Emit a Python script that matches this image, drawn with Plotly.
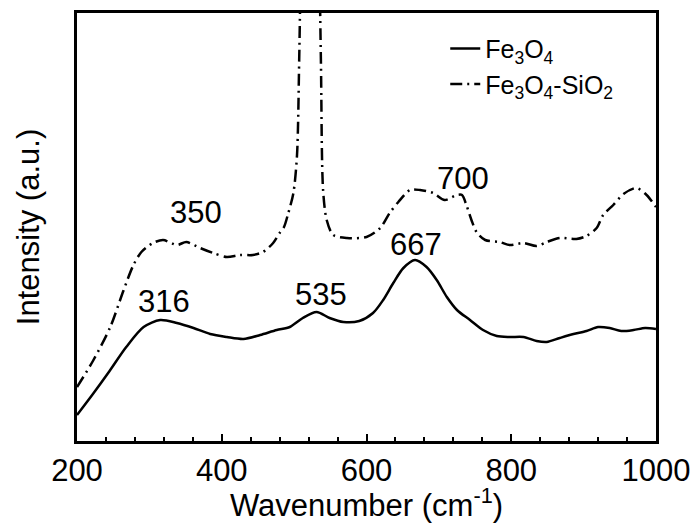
import plotly.graph_objects as go

# Fe3O4 (solid)
x_fe = [200, 222, 245, 268, 292, 315, 338, 361, 384, 407, 430, 453, 476, 494, 512,
        531, 549, 568, 590, 609, 623, 637, 651, 667, 683, 697, 711, 725, 743, 761,
        780, 798, 817, 835, 849, 867, 886, 904, 920, 936, 952, 969, 985, 1000]
y_fe = [26, 47, 70, 94, 114, 121, 118, 113, 107, 104, 102, 106, 111, 114, 123,
        129, 123, 119, 120, 128, 141, 158, 173, 181, 174, 161, 144, 131, 121, 111,
        105, 104, 104, 100, 99, 103, 107, 110, 114, 113, 110, 111, 113, 112]

# Fe3O4-SiO2 (dash-dot)
x_fs = [200, 222, 246, 264, 278, 289, 305, 319, 338, 351, 370, 388, 407, 425, 443,
        457, 471, 480, 486, 492, 499, 504, 507, 511, 522, 533, 537, 540, 545, 554,
        573, 600, 619, 632, 644, 660, 674, 692, 708, 725, 732, 738, 745, 752, 764,
        784, 798, 817, 835, 849, 867, 890, 904, 918, 927, 941, 955, 973, 987, 1000]
y_fs = [54, 80, 114, 150, 176, 189, 198, 201, 196, 199, 193, 188, 184, 186, 186,
        189, 198, 208, 214, 228, 248, 286, 381, 560, 900, 560, 381, 251, 221, 206,
        203, 204, 213, 228, 239, 251, 251, 248, 241, 246, 246, 236, 221, 209, 201,
        199, 196, 198, 195, 199, 203, 202, 205, 213, 226, 236, 247, 253, 246, 234]

# Peak labels
peak_labels = ["316", "350", "535", "667", "700"]
peak_x = [320, 364, 537, 668, 733]
peak_y = [140, 229, 147, 197, 263]

x_ticks = [200, 400, 600, 800, 1000]

FONT = "Liberation Sans, Arial, sans-serif"

fig = go.Figure()
fig.add_trace(go.Scatter(
    x=x_fe, y=y_fe, mode="lines", name="Fe<sub>3</sub>O<sub>4</sub>",
    line=dict(color="black", width=2.5, shape="spline", smoothing=0.8),
))
fig.add_trace(go.Scatter(
    x=x_fs, y=y_fs, mode="lines", name="Fe<sub>3</sub>O<sub>4</sub>-SiO<sub>2</sub>",
    line=dict(color="black", width=2.5, shape="spline", smoothing=0.8,
              dash="12px,5px,2px,5px"),
))

for t, xv, yv in zip(peak_labels, peak_x, peak_y):
    fig.add_annotation(x=xv, y=yv, text=t, showarrow=False,
                       font=dict(size=31, color="black", family=FONT),
                       xanchor="center", yanchor="middle")

fig.update_layout(
    width=696, height=523,
    margin=dict(l=77, r=40, t=13, b=82, autoexpand=False),
    paper_bgcolor="white", plot_bgcolor="white",
    font=dict(family=FONT, color="black", size=31),
    showlegend=True,
    legend=dict(x=0.636, y=0.97, xanchor="left", yanchor="top",
                bgcolor="rgba(0,0,0,0)", borderwidth=0,
                font=dict(size=25, family=FONT, color="black"),
                tracegroupgap=0),
    xaxis=dict(
        range=[200, 1000], tickvals=x_ticks, ticktext=[str(v) for v in x_ticks],
        ticks="inside", ticklen=7, tickwidth=2, tickcolor="black",
        minor=dict(dtick=40, tick0=200, ticks="inside", ticklen=4, tickwidth=2,
                   tickcolor="black"),
        showline=True, linewidth=2.5, linecolor="black", mirror=True,
        showgrid=False, zeroline=False, automargin=False,
        tickfont=dict(size=31, family=FONT, color="black"),
        title=dict(text="Wavenumber (cm<sup>-1</sup>)", standoff=10,
                   font=dict(size=31, family=FONT, color="black")),
    ),
    yaxis=dict(
        range=[0, 428], showticklabels=False, ticks="",
        showline=True, linewidth=2.5, linecolor="black", mirror=True,
        showgrid=False, zeroline=False, automargin=False,
        title=dict(text="Intensity (a.u.)", standoff=26,
                   font=dict(size=31, family=FONT, color="black")),
    ),
)

fig.write_html(
    "out.html",
    config={"displayModeBar": False},
    post_script="document.body.style.margin='0';document.body.style.overflow='hidden';",
)
